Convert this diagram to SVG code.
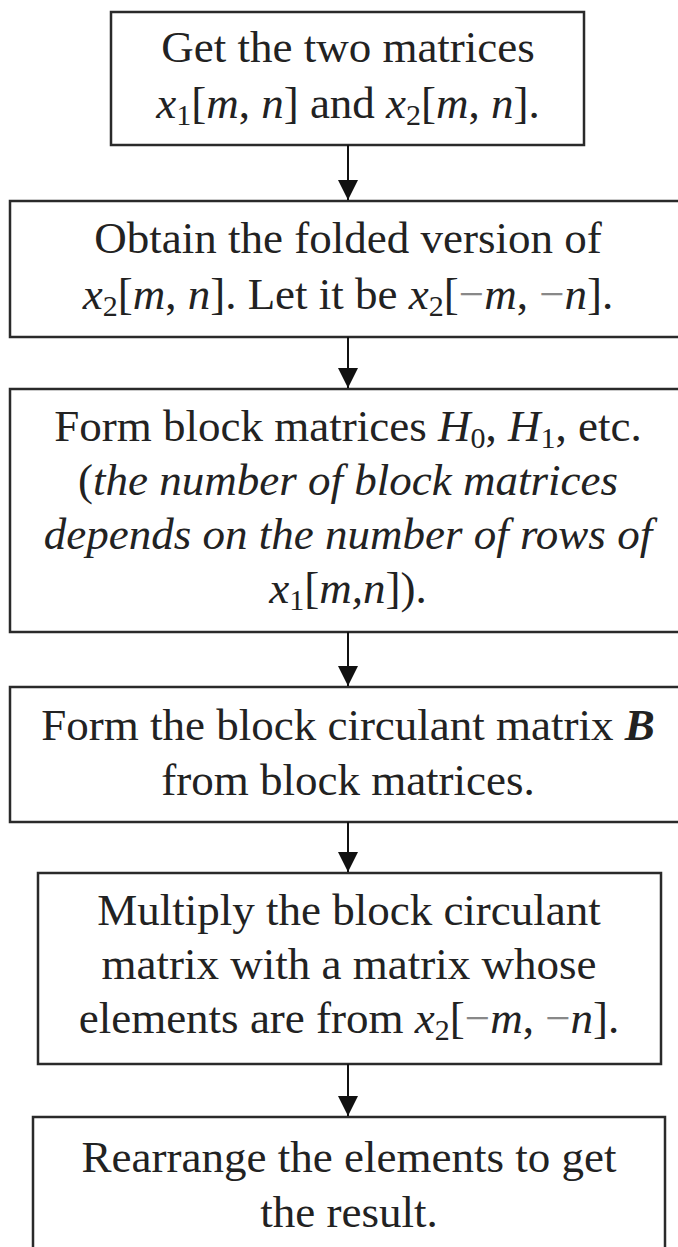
<svg xmlns="http://www.w3.org/2000/svg" width="678" height="1247" viewBox="0 0 678 1247">
  <style>
    .box { fill: #ffffff; stroke: #2a2a2a; stroke-width: 2.5; }
    .t { font-family: "Liberation Serif", "Times New Roman", serif; font-size: 45px; fill: #222222; text-anchor: middle; }
    .i { font-style: italic; }
    .b { font-weight: bold; font-style: italic; }
    .sub { font-size: 30px; }
    .mn { fill: #888888; }
    .conn { stroke: #111111; stroke-width: 2; fill: none; }
  </style>
  <defs>
    <marker id="arrow" markerUnits="userSpaceOnUse" markerWidth="20" markerHeight="20" refX="20" refY="10" orient="auto">
      <path d="M0,0 L20,10 L0,20 z" fill="#111111"/>
    </marker>
  </defs>
  <rect x="0" y="0" width="678" height="1247" fill="#ffffff"/>

  <g id="node1">
    <rect class="box" x="111" y="12" width="473" height="133"/>
    <text class="t" x="348" y="62">Get the two matrices</text>
    <text class="t" x="348" y="118"><tspan class="i">x</tspan><tspan class="sub" dy="7">1</tspan><tspan dy="-7">[</tspan><tspan class="i">m</tspan>, <tspan class="i">n</tspan>] and <tspan class="i">x</tspan><tspan class="sub" dy="7">2</tspan><tspan dy="-7">[</tspan><tspan class="i">m</tspan>, <tspan class="i">n</tspan>].</text>
  </g>

  <g id="node2">
    <rect class="box" x="10" y="201" width="676" height="136"/>
    <text class="t" x="348" y="253">Obtain the folded version of</text>
    <text class="t" x="348" y="309"><tspan class="i">x</tspan><tspan class="sub" dy="7">2</tspan><tspan dy="-7">[</tspan><tspan class="i">m</tspan>, <tspan class="i">n</tspan>]. Let it be <tspan class="i">x</tspan><tspan class="sub" dy="7">2</tspan><tspan dy="-7">[</tspan><tspan class="mn">−</tspan><tspan class="i">m</tspan>, <tspan class="mn">−</tspan><tspan class="i">n</tspan>].</text>
  </g>

  <g id="node3">
    <rect class="box" x="10" y="389" width="676" height="243"/>
    <text class="t" x="348" y="441">Form block matrices <tspan class="i">H</tspan><tspan class="sub" dy="7">0</tspan><tspan dy="-7">, </tspan><tspan class="i">H</tspan><tspan class="sub" dy="7">1</tspan><tspan dy="-7">, etc.</tspan></text>
    <text class="t" x="348" y="495">(<tspan class="i">the number of block matrices</tspan></text>
    <text class="t i" x="348" y="549">depends on the number of rows of</text>
    <text class="t" x="348" y="603"><tspan class="i">x</tspan><tspan class="sub" dy="7">1</tspan><tspan dy="-7">[</tspan><tspan class="i">m,n</tspan>]).</text>
  </g>

  <g id="node4">
    <rect class="box" x="10" y="687" width="676" height="135"/>
    <text class="t" x="348" y="740">Form the block circulant matrix <tspan class="b">B</tspan></text>
    <text class="t" x="348" y="795">from block matrices.</text>
  </g>

  <g id="node5">
    <rect class="box" x="38" y="873" width="623" height="191"/>
    <text class="t" x="349" y="925">Multiply the block circulant</text>
    <text class="t" x="349" y="979">matrix with a matrix whose</text>
    <text class="t" x="349" y="1033">elements are from <tspan class="i">x</tspan><tspan class="sub" dy="7">2</tspan><tspan dy="-7">[</tspan><tspan class="mn">−</tspan><tspan class="i">m</tspan>, <tspan class="mn">−</tspan><tspan class="i">n</tspan>].</text>
  </g>

  <g id="node6">
    <rect class="box" x="33" y="1117" width="632" height="145"/>
    <text class="t" x="349" y="1172">Rearrange the elements to get</text>
    <text class="t" x="349" y="1227">the result.</text>
  </g>

  <g id="connectors">
    <line class="conn" x1="348" y1="145" x2="348" y2="200" marker-end="url(#arrow)"/>
    <line class="conn" x1="348" y1="337" x2="348" y2="388" marker-end="url(#arrow)"/>
    <line class="conn" x1="348" y1="632" x2="348" y2="686" marker-end="url(#arrow)"/>
    <line class="conn" x1="348" y1="822" x2="348" y2="872" marker-end="url(#arrow)"/>
    <line class="conn" x1="348" y1="1064" x2="348" y2="1116" marker-end="url(#arrow)"/>
  </g>
</svg>
